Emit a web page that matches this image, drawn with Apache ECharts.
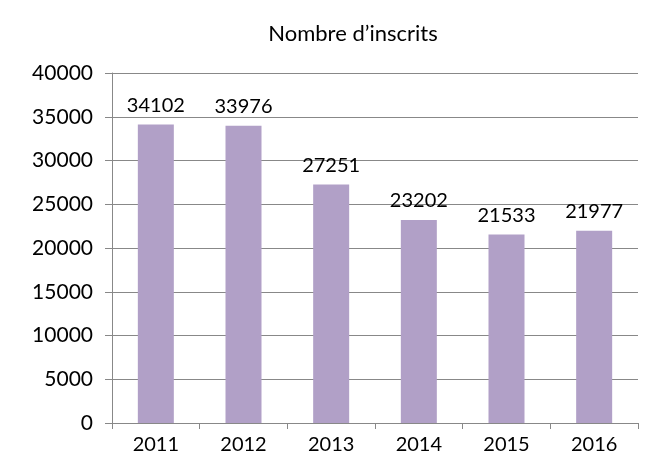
<!DOCTYPE html>
<html><head><meta charset="utf-8">
<script src="https://cdn.jsdelivr.net/npm/echarts@6/dist/echarts.min.js"></script>
<style>html,body{margin:0;padding:0;background:#fff}#c{width:651px;height:461px}</style>
</head><body><div id="c"></div>
<script>
const categories = ['2011','2012','2013','2014','2015','2016'];
const values = [34102, 33976, 27251, 23202, 21533, 21977];
const title = 'Nombre d\u2019inscrits';
const font = 'Lato, "Noto Sans", sans-serif';
const chart = echarts.init(document.getElementById('c'));
chart.setOption({
  animation: false,
  backgroundColor: '#fff',
  title: { text: title, left: 348, textAlign: 'center', top: 18,
    textStyle: { fontFamily: font, fontSize: 22, fontWeight: 'normal', color: '#000' } },
  grid: { left: 112, right: 13, top: 73, bottom: 38 },
  xAxis: { type: 'category', data: categories,
    axisLine: { lineStyle: { color: '#888', width: 1 } },
    axisTick: { show: true, length: 6, lineStyle: { color: '#888' } },
    axisLabel: { fontFamily: font, fontSize: 20, color: '#000', margin: 12 } },
  yAxis: { type: 'value', min: 0, max: 40000, interval: 5000,
    axisLine: { show: true, lineStyle: { color: '#888', width: 1 } },
    axisTick: { show: true, length: 7, lineStyle: { color: '#888' } },
    splitLine: { lineStyle: { color: '#888', width: 1 } },
    axisLabel: { fontFamily: font, fontSize: 21, color: '#000', margin: 19, formatter: v => String(v) } },
  series: [{ type: 'bar', data: values, barWidth: 36,
    itemStyle: { color: '#B1A0C7' },
    label: { show: true, position: 'top', distance: 9, fontFamily: font, fontSize: 20, color: '#000' } }]
});
</script></body></html>
